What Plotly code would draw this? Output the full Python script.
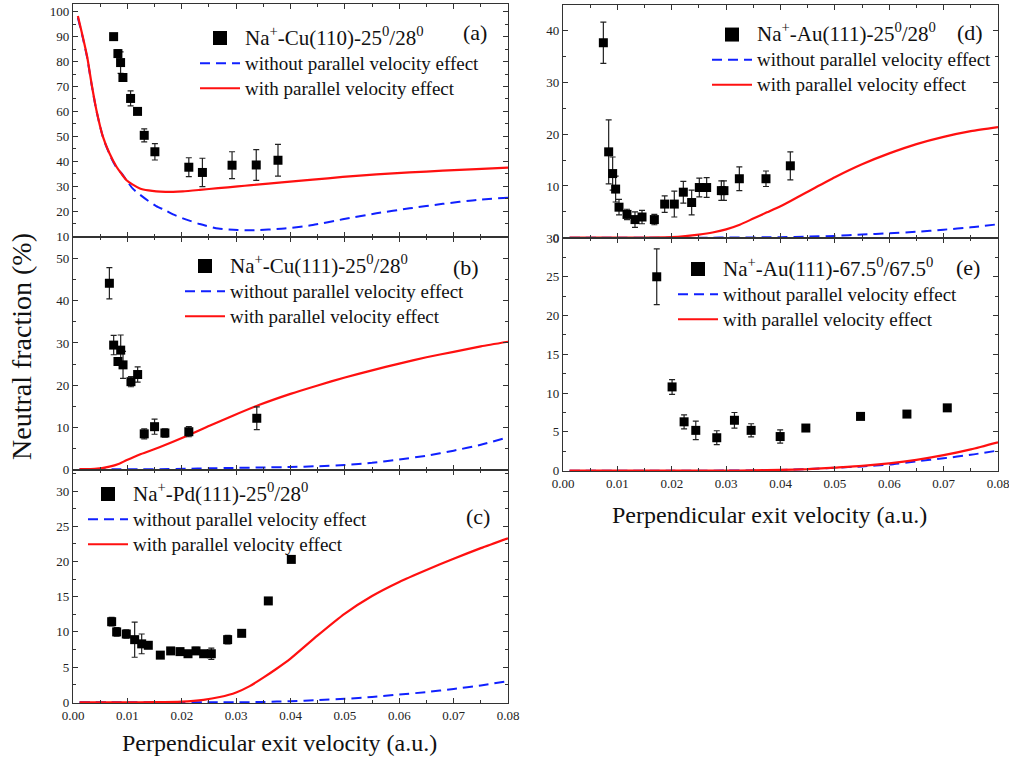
import plotly.graph_objects as go

SERIF = "Liberation Serif, Times New Roman, Times, serif"
RED = "#ff1010"
BLUE = "#1020ff"
W, H = 1009, 757

# shared velocity axis
X_TICKS = [0.00, 0.01, 0.02, 0.03, 0.04, 0.05, 0.06, 0.07, 0.08]
X_MINOR = [0.005, 0.015, 0.025, 0.035, 0.045, 0.055, 0.065, 0.075]

# ---------------- panel (a): Na+ - Cu(110), 25/28 deg ----------------
a_x = [0.00747, 0.00826, 0.00875, 0.00918, 0.01059, 0.01187, 0.0131, 0.01506,
       0.0213, 0.0238, 0.02925, 0.0337, 0.0377]
a_y = [90.0, 83.2, 79.6, 73.6, 65.2, 60.0, 50.4, 43.8, 37.6, 35.5, 38.4, 38.5, 40.4]
a_err = [0.8, 1.5, 4.3, 1.3, 3.0, 0.8, 2.6, 3.3, 3.8, 5.7, 5.4, 6.2, 6.4]
a_cx = [0.0009, 0.0018, 0.0026, 0.0034, 0.0043, 0.0055, 0.0067, 0.008, 0.0089, 0.0098,
        0.011, 0.0123, 0.0139, 0.0153, 0.017, 0.0184, 0.0202, 0.0233, 0.0267, 0.0303,
        0.0328, 0.0389, 0.0441, 0.0496, 0.0558, 0.0619, 0.068, 0.0742, 0.08]
a_with = [98.3, 90.0, 82.0, 71.3, 60.6, 49.9, 43.2, 37.8, 35.0, 32.5,
          30.6, 29.1, 28.3, 27.9, 27.7, 27.7, 27.9, 28.5, 29.2, 29.9,
          30.4, 31.6, 32.6, 33.7, 34.7, 35.5, 36.2, 36.8, 37.4]
a_without = [97.6, 89.6, 81.6, 71.0, 60.4, 49.7, 42.9, 37.4, 35.2, 32.5,
             29.0, 26.6, 24.0, 22.0, 20.3, 18.7, 17.1, 14.8, 13.0, 12.4,
             12.3, 13.0, 14.4, 16.7, 19.1, 21.1, 22.9, 24.5, 25.4]

# ---------------- panel (b): Na+ - Cu(111), 25/28 deg ----------------
b_x = [0.00669, 0.00748, 0.00827, 0.00877, 0.0092, 0.01066, 0.01189, 0.0131,
       0.0150, 0.0169, 0.0213, 0.0338]
b_y = [44.2, 29.5, 25.6, 28.3, 24.8, 20.8, 22.5, 8.4, 10.1, 8.6, 8.9, 12.1]
b_err = [3.7, 2.3, 0.9, 3.6, 3.2, 1.2, 1.8, 1.2, 1.8, 1.0, 1.2, 2.7]
b_cx = [0.0012, 0.004, 0.0067, 0.0085, 0.0098, 0.0125, 0.0159, 0.0208, 0.0251,
        0.0294, 0.0343, 0.04, 0.045, 0.05, 0.055, 0.06, 0.065, 0.07, 0.075, 0.08]
b_with = [0.0, 0.05, 0.6, 1.3, 2.1, 3.6, 5.2, 7.8, 10.3, 12.7, 15.3, 17.9, 19.9,
          21.8, 23.5, 25.1, 26.6, 27.9, 29.2, 30.3]
b_without = [0.0, 0.0, 0.0, 0.0, 0.0, 0.0, 0.0, 0.1, 0.2, 0.3, 0.4, 0.5, 0.7,
             1.0, 1.5, 2.3, 3.2, 4.4, 5.8, 7.6]

# ---------------- panel (c): Na+ - Pd(111), 25/28 deg ----------------
c_x = [0.00711, 0.00803, 0.0098, 0.01134, 0.01263, 0.01385, 0.01606, 0.01796,
       0.01968, 0.02115, 0.02262, 0.02403, 0.02544, 0.02844, 0.03102, 0.03592, 0.04015]
c_y = [11.45, 10.0, 9.7, 8.9, 8.3, 8.1, 6.7, 7.3, 7.2, 6.9, 7.3, 6.9, 6.9, 8.9, 9.8,
       14.4, 20.3]
c_err = [0.6, 0.6, 0.6, 2.5, 1.4, 0.3, 0.2, 0.4, 0.4, 0.3, 0.5, 0.2, 0.8, 0.6, 0.2,
         0.4, 0.1]
c_cx = [0.0012, 0.01, 0.015, 0.02, 0.024, 0.027, 0.03, 0.0325, 0.035, 0.0375, 0.04,
        0.045, 0.05, 0.055, 0.06, 0.065, 0.07, 0.075, 0.08]
c_with = [0.0, 0.0, 0.02, 0.1, 0.35, 0.75, 1.4, 2.3, 3.5, 4.8, 6.2, 9.5, 12.6, 15.1,
          17.1, 18.8, 20.4, 21.9, 23.3]
c_without = [0.0, 0.0, 0.0, 0.0, 0.0, 0.0, 0.0, 0.02, 0.05, 0.1, 0.15, 0.3, 0.5,
             0.75, 1.1, 1.45, 1.9, 2.4, 3.0]

# ---------------- panel (d): Na+ - Au(111), 25/28 deg ----------------
d_x = [0.00742, 0.0084, 0.00913, 0.00968, 0.0103, 0.01177, 0.01324, 0.01453, 0.0168,
       0.0187, 0.02047, 0.02213, 0.02366, 0.02507, 0.02642, 0.02912, 0.0296, 0.03243,
       0.03733, 0.04181]
d_y = [37.7, 16.6, 12.4, 9.4, 5.9, 4.5, 3.5, 4.0, 3.5, 6.5, 6.5, 8.8, 6.8, 9.7, 9.7,
       9.1, 9.1, 11.4, 11.4, 13.9]
d_err = [4.0, 6.2, 3.2, 2.5, 1.5, 1.0, 1.5, 1.3, 1.0, 1.6, 2.5, 2.1, 2.4, 1.8, 1.9,
         1.9, 1.9, 2.3, 1.5, 2.7]
d_cx = [0.0012, 0.01, 0.015, 0.02, 0.0225, 0.025, 0.0275, 0.03, 0.0325, 0.035, 0.0375,
        0.04, 0.045, 0.05, 0.055, 0.06, 0.065, 0.07, 0.075, 0.08]
d_with = [0.0, 0.0, 0.02, 0.1, 0.3, 0.6, 1.0, 1.6, 2.5, 3.7, 4.9, 6.1, 8.9, 11.7,
          14.2, 16.3, 18.1, 19.5, 20.6, 21.4]
d_without = [0.0, 0.0, 0.0, 0.0, 0.0, 0.0, 0.01, 0.03, 0.04, 0.05, 0.07, 0.1, 0.2,
             0.35, 0.6, 0.85, 1.15, 1.55, 2.0, 2.6]

# ---------------- panel (e): Na+ - Au(111), 67.5/67.5 deg ----------------
e_x = [0.01724, 0.02006, 0.02227, 0.02442, 0.02828, 0.03153, 0.0346, 0.03994, 0.04466,
       0.05472, 0.06325, 0.07067]
e_y = [25.0, 10.8, 6.3, 5.2, 4.25, 6.5, 5.2, 4.4, 5.5, 7.0, 7.3, 8.1]
e_err = [3.6, 0.95, 0.9, 1.2, 0.9, 1.0, 0.85, 0.85, 0.3, 0.4, 0.2, 0.2]
e_cx = [0.0012, 0.01, 0.02, 0.03, 0.035, 0.04, 0.045, 0.05, 0.055, 0.06, 0.065, 0.07,
        0.075, 0.08]
e_with = [0.0, 0.0, 0.0, 0.01, 0.04, 0.1, 0.2, 0.4, 0.62, 0.95, 1.4, 2.0, 2.75, 3.66]
e_without = [0.0, 0.0, 0.0, 0.01, 0.04, 0.1, 0.2, 0.38, 0.55, 0.8, 1.2, 1.6, 2.05, 2.6]

LBL_WITHOUT = "without parallel velocity effect"
LBL_WITH = "with parallel velocity effect"


def px_x(p):
    return p / W


def px_y(p):
    return 1 - p / H


XL = [px_x(73), px_x(508)]
XR = [px_x(563), px_x(998)]

panels = [
    dict(n=1, label="Na<sup>+</sup>-Cu(110)-25<sup>0</sup>/28<sup>0</sup>",
         x=a_x, y=a_y, err=a_err, cx=a_cx, w=a_with, wo=a_without,
         xd=XL, yd=(4, 237), yr=[9.6, 103.1], dt=10, mdt=5, t0=10,
         leg=(195, 20.5), tag="(a)", tagpos=(475, 32), xlab=False),
    dict(n=2, label="Na<sup>+</sup>-Cu(111)-25<sup>0</sup>/28<sup>0</sup>",
         x=b_x, y=b_y, err=b_err, cx=b_cx, w=b_with, wo=b_without,
         xd=XL, yd=(237, 470), yr=[-0.2, 55.2], dt=10, mdt=5, t0=0,
         leg=(180, 248.5), tag="(b)", tagpos=(466, 268), xlab=False),
    dict(n=3, label="Na<sup>+</sup>-Pd(111)-25<sup>0</sup>/28<sup>0</sup>",
         x=c_x, y=c_y, err=c_err, cx=c_cx, w=c_with, wo=c_without,
         xd=XL, yd=(470, 703), yr=[-0.1, 33.0], dt=5, mdt=2.5, t0=0,
         leg=(83, 476.5), tag="(c)", tagpos=(478, 516), xlab=True),
    dict(n=4, label="Na<sup>+</sup>-Au(111)-25<sup>0</sup>/28<sup>0</sup>",
         x=d_x, y=d_y, err=d_err, cx=d_cx, w=d_with, wo=d_without,
         xd=XR, yd=(5, 238), yr=[-0.06, 45.0], dt=10, mdt=5, t0=0,
         leg=(707, 17), tag="(d)", tagpos=(970, 33), xlab=False),
    dict(n=5, label="Na<sup>+</sup>-Au(111)-67.5<sup>0</sup>/67.5<sup>0</sup>",
         x=e_x, y=e_y, err=e_err, cx=e_cx, w=e_with, wo=e_without,
         xd=XR, yd=(238, 471), yr=[-0.04, 30.0], dt=5, mdt=2.5, t0=0,
         leg=(673, 251.5), tag="(e)", tagpos=(968, 268), xlab=True),
]

AX = dict(showline=True, linecolor="#333", linewidth=1.4, mirror="ticks",
          ticks="inside", ticklen=5, tickwidth=1.2, tickcolor="#333",
          showgrid=False, zeroline=False, ticklabeloverflow="allow",
          tickfont=dict(family=SERIF, size=13, color="#222"))

fig = go.Figure()
layout = dict(width=W, height=H,
              margin=dict(l=0, r=0, t=0, b=0, pad=0, autoexpand=False),
              font=dict(family=SERIF, color="#111"),
              paper_bgcolor="white", plot_bgcolor="white", annotations=[])

for p in panels:
    n = p["n"]
    sx = "" if n == 1 else str(n)
    xa, ya = "x" + sx, "y" + sx
    lg = "legend" + sx

    fig.add_trace(go.Scatter(
        x=p["cx"], y=p["wo"], mode="lines",
        name='<span style="font-size:19px">' + LBL_WITHOUT + "</span>",
        line=dict(color=BLUE, width=2, dash="10px,6px", shape="spline", smoothing=0.6),
        xaxis=xa, yaxis=ya, legend=lg, legendrank=2))
    fig.add_trace(go.Scatter(
        x=p["cx"], y=p["w"], mode="lines",
        name='<span style="font-size:19px">' + LBL_WITH + "</span>",
        line=dict(color=RED, width=2.2, shape="spline", smoothing=0.6),
        xaxis=xa, yaxis=ya, legend=lg, legendrank=3))
    fig.add_trace(go.Scatter(
        x=p["x"], y=p["y"], mode="markers", showlegend=False,
        marker=dict(symbol="square", size=9, color="black"),
        error_y=dict(type="data", array=p["err"], color="#222", thickness=1.2, width=3),
        xaxis=xa, yaxis=ya))
    # legend entry for the measured points (larger symbol than the data markers)
    fig.add_trace(go.Scatter(
        x=[None], y=[None], mode="markers",
        name='<span style="font-size:21px">' + p["label"] + "</span>",
        marker=dict(symbol="square", size=14, color="black"),
        xaxis=xa, yaxis=ya, legend=lg, legendrank=1))

    top, bot = p["yd"]
    layout["xaxis" + sx] = dict(AX, domain=p["xd"], anchor=ya, range=[0, 0.08],
                                tickmode="array", tickvals=X_TICKS, tickformat=".2f",
                                showticklabels=p["xlab"],
                                minor=dict(tickmode="array", tickvals=X_MINOR,
                                           ticks="inside", ticklen=3,
                                           tickwidth=1, tickcolor="#333"))
    layout["yaxis" + sx] = dict(AX, domain=[px_y(bot), px_y(top)], anchor=xa,
                                range=p["yr"], dtick=p["dt"], tick0=p["t0"],
                                minor=dict(dtick=p["mdt"], ticks="inside", ticklen=3,
                                           tickwidth=1, tickcolor="#333"))
    lx, ly = p["leg"]
    layout[lg] = dict(x=px_x(lx), y=px_y(ly), xanchor="left", yanchor="top",
                      bgcolor="rgba(0,0,0,0)", borderwidth=0, itemwidth=40,
                      font=dict(family=SERIF, size=17, color="#111"))
    tx, ty = p["tagpos"]
    layout["annotations"].append(dict(
        text=p["tag"], x=px_x(tx), y=px_y(ty), xref="paper", yref="paper",
        xanchor="center", yanchor="middle",
        showarrow=False, font=dict(family=SERIF, size=22, color="#111")))

layout["annotations"] += [
    dict(text="Neutral fraction (%)", x=px_x(22), y=px_y(347), xref="paper", yref="paper",
         xanchor="center", yanchor="middle",
         textangle=-90, showarrow=False, font=dict(family=SERIF, size=28, color="#111")),
    dict(text="Perpendicular exit velocity (a.u.)", x=px_x(279), y=px_y(743),
         xref="paper", yref="paper", xanchor="center", yanchor="middle", showarrow=False,
         font=dict(family=SERIF, size=24, color="#111")),
    dict(text="Perpendicular exit velocity (a.u.)", x=px_x(769), y=px_y(515),
         xref="paper", yref="paper", xanchor="center", yanchor="middle", showarrow=False,
         font=dict(family=SERIF, size=24, color="#111")),
]

fig.update_layout(**layout)
fig.write_html("out.html")
